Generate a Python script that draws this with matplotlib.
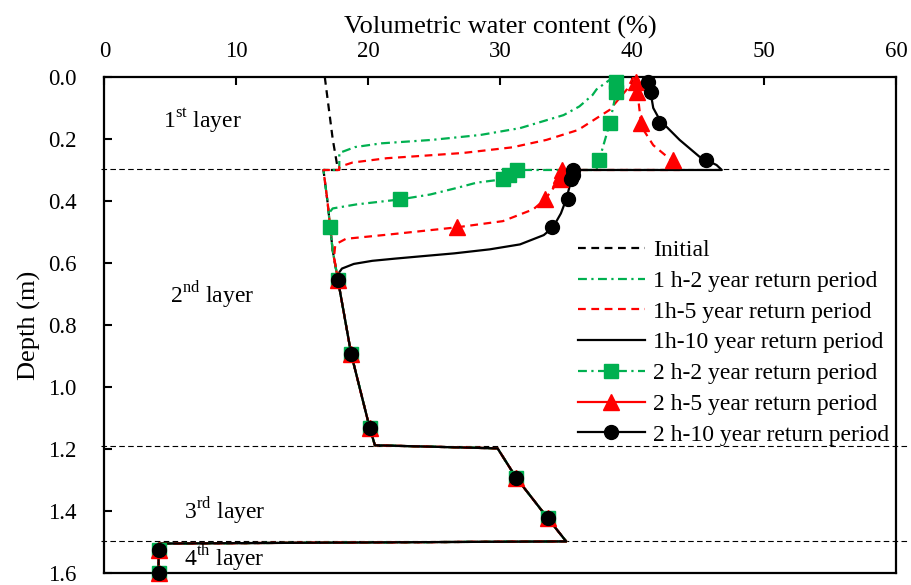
import matplotlib.pyplot as plt
from matplotlib.lines import Line2D

# kolom: kadar air volumetrik (%) terhadap kedalaman (m)
GREEN = "#00B050"
RED = "#FF0000"

# kondisi awal
depth_init = [0.0, 0.10, 0.20, 0.30, 0.30, 0.40, 0.48, 0.56, 0.655, 0.893, 1.131, 1.188, 1.198, 1.292, 1.423, 1.498, 1.505, 1.525, 1.60]
wc_init = [16.7, 17.0, 17.3, 17.7, 16.6, 16.9, 17.1, 17.3, 17.7, 18.7, 20.1, 20.5, 29.8, 31.2, 33.6, 35.0, 4.1, 4.1, 4.1]

# profil lapisan 2 yang belum terbasahi dan lapisan bawah (sama untuk semua skenario)
depth_l2 = [0.30, 0.40, 0.48, 0.56]
wc_l2 = [16.6, 16.9, 17.1, 17.3]
depth_low = [0.655, 0.893, 1.131, 1.188, 1.198, 1.292, 1.423, 1.498, 1.505, 1.525, 1.60]
wc_low = [17.7, 18.7, 20.1, 20.5, 29.8, 31.2, 33.6, 35.0, 4.1, 4.1, 4.1]

# hujan 1 jam
depth_1h_2 = [0.0, 0.04, 0.058, 0.095, 0.123, 0.165, 0.187, 0.203, 0.214, 0.226, 0.245, 0.30]
wc_1h_2 = [38.6, 37.3, 37.0, 36.0, 34.8, 31.5, 28.5, 24.8, 21.0, 19.0, 17.8, 17.8]

depth_1h_5 = [0.0, 0.04, 0.106, 0.171, 0.203, 0.227, 0.245, 0.254, 0.262, 0.276, 0.29, 0.30]
wc_1h_5 = [40.1, 39.6, 38.3, 35.9, 33.5, 30.9, 27.2, 24.2, 21.4, 18.8, 17.8, 17.8]

depth_1h_10 = [0.0, 0.05, 0.10, 0.139, 0.203, 0.257, 0.284, 0.30, 0.30, 0.33, 0.395, 0.44, 0.485,
               0.51, 0.54, 0.556, 0.569, 0.578, 0.586, 0.593, 0.603, 0.618, 0.642, 0.655]
wc_1h_10 = [41.2, 41.4, 41.6, 42.1, 43.6, 45.1, 46.4, 46.8, 35.5, 35.4, 35.0, 34.6, 34.0,
            33.3, 31.5, 29.2, 26.5, 24.1, 22.0, 20.3, 18.9, 18.0, 17.6, 17.7]

# hujan 2 jam (garis)
depth_2h_2_line = [0.0, 0.047, 0.15, 0.268, 0.30, 0.30, 0.33, 0.341, 0.358, 0.379, 0.395,
                   0.411, 0.424, 0.44, 0.483, 0.56, 0.655]
wc_2h_2_line = [38.8, 38.8, 38.3, 37.5, 37.3, 31.3, 30.2, 28.2, 26.7, 24.7, 22.4,
                19.1, 17.3, 17.0, 17.1, 17.3, 17.7]

depth_2h_5_line = [0.0, 0.047, 0.16, 0.22, 0.273, 0.30, 0.30, 0.33, 0.36, 0.395, 0.427,
                   0.465, 0.485, 0.508, 0.522, 0.54, 0.58, 0.655]
wc_2h_5_line = [40.3, 40.4, 40.7, 41.6, 43.1, 43.6, 34.7, 34.5, 34.0, 33.4, 32.5,
                30.2, 26.7, 21.6, 18.3, 17.5, 17.4, 17.7]

# hujan 2 jam (titik pengukuran)
depth_2h = [0.015, 0.047, 0.15, 0.268, 0.30, 0.315, 0.33, 0.395, 0.483, 0.655, 0.893, 1.131, 1.292, 1.423, 1.525, 1.60]
wc_2h_2 = [38.8, 38.8, 38.3, 37.5, 31.3, 30.7, 30.2, 22.4, 17.1, 17.7, 18.7, 20.1, 31.2, 33.6, 4.1, 4.1]
wc_2h_5 = [40.3, 40.4, 40.7, 43.1, 34.7, 34.6, 34.5, 33.4, 26.7, 17.7, 18.7, 20.1, 31.2, 33.6, 4.1, 4.1]
wc_2h_10 = [41.2, 41.4, 42.0, 45.6, 35.5, 35.5, 35.4, 35.1, 33.9, 17.7, 18.7, 20.1, 31.2, 33.6, 4.1, 4.1]

# batas lapisan
layer_bounds = [0.297, 1.19, 1.497]
layer_names = [r"1$^{\rm st}$ layer", r"2$^{\rm nd}$ layer", r"3$^{\rm rd}$ layer", r"4$^{\rm th}$ layer"]
layer_label_x = [4.4, 5.0, 6.0, 6.0]
layer_label_y = [0.165, 0.73, 1.425, 1.578]

plt.rcParams["font.family"] = ["Liberation Serif", "DejaVu Serif"]
plt.rcParams["mathtext.fontset"] = "custom"
plt.rcParams["mathtext.rm"] = "Liberation Serif"

fig = plt.figure(figsize=(9.11, 5.85), dpi=100)
ax = fig.add_axes([0.1147, 0.0205, 0.8688, 0.8479])

# garis batas lapisan
bound_end = [59.66, 60.8, 60.8]
for d, x_end in zip(layer_bounds, bound_end):
    ax.plot([-0.27, x_end], [d, d], color="black", lw=0.8, dashes=(5, 3), clip_on=False, zorder=1)

lw = 1.6
ax.plot(wc_init, depth_init, color="black", lw=lw, dashes=(3.5, 2.5), zorder=2)
ax.plot(wc_1h_2 + wc_l2 + wc_low, depth_1h_2 + depth_l2 + depth_low,
        color=GREEN, lw=lw, dashes=(4, 2, 1, 2), zorder=3)
ax.plot(wc_1h_5 + wc_l2 + wc_low, depth_1h_5 + depth_l2 + depth_low,
        color=RED, lw=lw, dashes=(3.5, 2.5), zorder=3)
ax.plot(wc_1h_10 + wc_low, depth_1h_10 + depth_low, color="black", lw=lw, zorder=4)

ax.plot(wc_2h_2_line + wc_low, depth_2h_2_line + depth_low,
        color=GREEN, lw=lw, dashes=(4, 2, 1, 2), zorder=3)
ax.plot(wc_2h_5_line + wc_low, depth_2h_5_line + depth_low,
        color=RED, lw=lw, dashes=(3.5, 2.5), zorder=3)

ax.plot(wc_2h_2, depth_2h, ls="none", marker="s", ms=10.5, color=GREEN, clip_on=False, zorder=5)
ax.plot(wc_2h_5, depth_2h, ls="none", marker="^", ms=11, color=RED, clip_on=False, zorder=6)
ax.plot(wc_2h_10, depth_2h, ls="none", marker="o", ms=10, color="black", clip_on=False, zorder=7)

for name, x, y in zip(layer_names, layer_label_x, layer_label_y):
    ax.text(x, y, name, fontsize=17, va="baseline", ha="left")

ax.set_xlim(0, 60)
ax.set_ylim(1.6, 0)
ax.set_xticks(range(0, 61, 10))
ax.set_yticks([0.0, 0.2, 0.4, 0.6, 0.8, 1.0, 1.2, 1.4, 1.6])
ax.set_yticklabels(["0.0", "0.2", "0.4", "0.6", "0.8", "1.0", "1.2", "1.4", "1.6"])
ax.xaxis.set_ticks_position("top")
ax.xaxis.set_label_position("top")
ax.tick_params(axis="x", direction="in", top=True, bottom=False, length=6, width=1.5, labelsize=16.5, pad=11)
ax.tick_params(axis="y", direction="in", left=True, right=False, length=6, width=1.5, labelsize=16.5, pad=20)
for s in ax.spines.values():
    s.set_linewidth(1.6)
ax.set_xlabel("Volumetric water content (%)", fontsize=19, labelpad=5)
ax.set_ylabel("Depth (m)", fontsize=19, labelpad=5)

handles = [
    Line2D([], [], color="black", lw=lw, dashes=(3.5, 2.5)),
    Line2D([], [], color=GREEN, lw=lw, dashes=(4, 2, 1, 2)),
    Line2D([], [], color=RED, lw=lw, dashes=(3.5, 2.5)),
    Line2D([], [], color="black", lw=lw),
    Line2D([], [], color=GREEN, lw=lw, dashes=(4, 2, 1, 2), marker="s", ms=10.5),
    Line2D([], [], color=RED, lw=lw, marker="^", ms=11),
    Line2D([], [], color="black", lw=lw, marker="o", ms=10),
]
labels = ["Initial", "1 h-2 year return period", "1h-5 year return period", "1h-10 year return period",
          "2 h-2 year return period", "2 h-5 year return period", "2 h-10 year return period"]
ax.legend(handles, labels, loc="upper left", bbox_to_anchor=(0.598, 0.672), frameon=False,
          fontsize=17, handlelength=2.85, handletextpad=0.35, labelspacing=0.39,
          borderpad=0, borderaxespad=0, numpoints=1)

plt.savefig("out.png", dpi=100)
